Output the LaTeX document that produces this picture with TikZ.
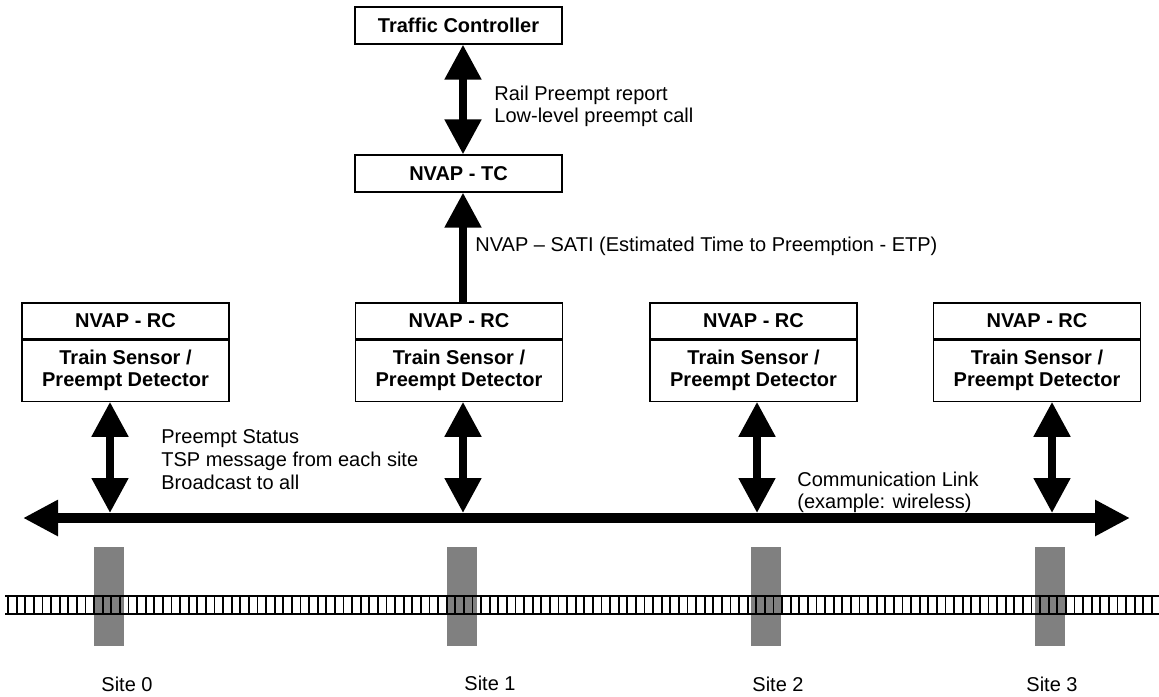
\documentclass[tikz,border=0pt]{standalone}
\usepackage{fontspec}
\setmainfont{Liberation Sans}
\usetikzlibrary{positioning,arrows.meta}

\begin{document}
\begin{tikzpicture}[x=0.5pt, y=-0.5pt, font=\fontsize{10}{11}\selectfont,
    box/.style={draw, line width=0.6pt, minimum width=103.5pt, inner sep=0pt,
                align=center, font=\fontsize{10}{11}\selectfont\bfseries},
    rc/.style={box, minimum height=18pt},
    sensor/.style={box, minimum height=30.5pt},
    link/.style={line width=4pt, {Triangle[width=17.5pt,length=17.5pt]}-{Triangle[width=17.5pt,length=17.5pt]}},
    uplink/.style={line width=4pt, -{Triangle[width=17.5pt,length=17.5pt]}},
    bus/.style={line width=5pt, {Triangle[width=17pt,length=17.5pt]}-{Triangle[width=17pt,length=17.5pt]}},
    note/.style={anchor=west, align=left, inner sep=0pt}]
  \useasboundingbox (0,0) rectangle (1159,696);

  % controller column
  \node[box, minimum height=18.5pt] (tc)     at (458.5,25.5)  {Traffic Controller};
  \node[box, minimum height=18.5pt] (nvaptc) at (458.5,173.5) {NVAP - TC};
  \coordinate (col) at (463,0);

  % the four road side units
  \node[rc]     (rc0) at (125.5,321) {NVAP - RC};
  \node[rc]     (rc1) at (459,321)   {NVAP - RC};
  \node[rc]     (rc2) at (753.5,321) {NVAP - RC};
  \node[rc]     (rc3) at (1037,321)  {NVAP - RC};
  \node[sensor] (ts0) [below=0pt of rc0] {Train Sensor /\\Preempt Detector};
  \node[sensor] (ts1) [below=0pt of rc1] {Train Sensor /\\Preempt Detector};
  \node[sensor] (ts2) [below=0pt of rc2] {Train Sensor /\\Preempt Detector};
  \node[sensor] (ts3) [below=0pt of rc3] {Train Sensor /\\Preempt Detector};

  % communication link
  \coordinate (busL) at (23,518);
  \coordinate (busR) at (1130,518);
  \coordinate (b0) at (110,513);
  \coordinate (b1) at (463,513);
  \coordinate (b2) at (757,513);
  \coordinate (b3) at (1052,513);
  \draw[bus] (busL) -- (busR);

  \draw[link]   (tc.south -| col) -- (nvaptc.north -| col);
  \draw[uplink] (rc1.north -| col) -- (nvaptc.south -| col);
  \foreach \i in {0,1,2,3}
    \draw[link] (ts\i.south -| b\i) -- (b\i);

  % crossings and track
  \foreach \x in {109,462,766,1050}
    \fill[gray] (\x-15,547) rectangle (\x+15,646);
  \draw[line width=1pt] (5,596) -- (1159,596) (5,614) -- (1159,614);
  \foreach \x in {8,16.6,...,1156}
    \draw[line width=0.9pt] (\x,596) -- (\x,614);

  % labels
  \node[note] (rpt)    at (494,106) {Rail Preempt report\\Low-level preempt call};
  \node[note] (sati)   at (475,246) {NVAP \textendash{} SATI (Estimated Time to Preemption - ETP)};
  \node[note, font=\fontsize{10}{11.5}\selectfont] (status) at (161,460)
    {Preempt Status\\TSP message from each site\\Broadcast to all};
  \node[note] (comm)   at (797,492) {Communication Link\\(example: wireless)};

  \node (site0) at (127,684)  {Site 0};
  \node (site1) at (490,683)  {Site 1};
  \node (site2) at (778,684)  {Site 2};
  \node (site3) at (1052,684) {Site 3};
\end{tikzpicture}
\end{document}
